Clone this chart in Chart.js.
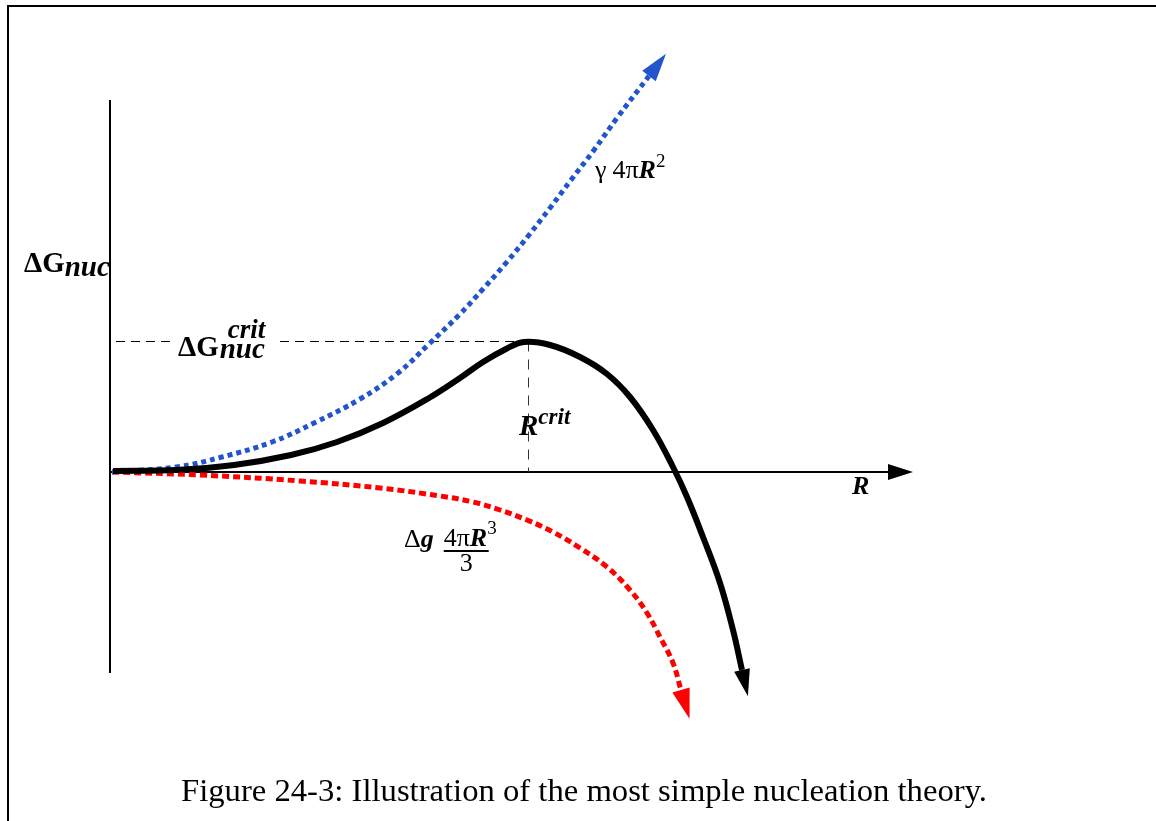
<!DOCTYPE html>
<html>
<head>
<meta charset="utf-8">
<script src="https://cdn.jsdelivr.net/npm/chart.js@4/dist/chart.umd.min.js"></script>
<style>
  html, body { margin: 0; padding: 0; background: #fff; overflow: hidden; }
  #wrap { width: 1156px; height: 821px; position: relative; }
</style>
</head>
<body>
<div id="wrap"><canvas id="c"></canvas></div>
<script>
// nucleation sketch: values, arbitrary units
// surface term  gamma 4 pi R^2
const surfR = [0.02, 0.66, 1.12, 1.62, 2.04, 2.50, 2.88, 3.19, 3.50, 3.73, 3.96, 4.19, 4.40, 4.61, 4.84, 5.07, 5.39];
const surfG = [0.00, 0.05, 0.15, 0.30, 0.49, 0.73, 0.99, 1.28, 1.58, 1.83, 2.09, 2.37, 2.64, 2.92, 3.22, 3.54, 3.96];
// volume term  dg 4 pi R^3 / 3
const volR = [0.02, 0.90, 1.90, 2.70, 3.30, 3.63, 3.90, 4.17, 4.43, 4.70, 4.97, 5.20, 5.37, 5.50, 5.63, 5.71];
const volG = [0.00, -0.03, -0.09, -0.16, -0.24, -0.30, -0.38, -0.48, -0.60, -0.76, -0.95, -1.18, -1.41, -1.65, -1.91, -2.18];
// total dG_nuc
const totR = [0.03, 0.66, 1.24, 1.81, 2.27, 2.73, 3.19, 3.50, 3.73, 3.96, 4.14, 4.40, 4.70, 4.97, 5.20, 5.43, 5.63, 5.77, 5.93, 6.10, 6.23, 6.32];
const totG = [0.01, 0.02, 0.07, 0.17, 0.30, 0.49, 0.74, 0.94, 1.10, 1.23, 1.30, 1.27, 1.15, 0.98, 0.75, 0.42, 0.05, -0.25, -0.65, -1.11, -1.58, -1.98];

const rCrit = 4.18, gCrit = 1.31;
const rAxisEnd = 8.03, gAxisTop = 3.72, gAxisBottom = -2.01;

const pts = (xs, ys) => xs.map((x, i) => ({ x: x, y: ys[i] }));

const SERIF = '"Liberation Serif", "Times New Roman", serif';
const f = (style, size) => style + ' ' + size + 'px ' + SERIF;

function arrow(ctx, bx, by, dx, dy, len, half, color) {
  const n = Math.hypot(dx, dy); dx /= n; dy /= n;
  ctx.fillStyle = color;
  ctx.beginPath();
  ctx.moveTo(bx + dx * len, by + dy * len);
  ctx.lineTo(bx - dy * half, by + dx * half);
  ctx.lineTo(bx + dy * half, by - dx * half);
  ctx.closePath();
  ctx.fill();
}

// draw a row of text pieces: [text, font, dy, extra gap]
function run(ctx, x, y, parts) {
  let cx = x;
  for (const p of parts) {
    ctx.font = p[1];
    ctx.fillText(p[0], cx, y + (p[2] || 0));
    cx += ctx.measureText(p[0]).width + (p[3] || 0);
  }
  return cx;
}

const sketch = {
  id: 'sketch',
  beforeDatasetsDraw(chart) {
    const { ctx, scales: { x, y } } = chart;
    const X = v => x.getPixelForValue(v), Y = v => y.getPixelForValue(v);
    ctx.save();
    ctx.strokeStyle = '#000';
    // page frame
    ctx.lineWidth = 2;
    ctx.beginPath(); ctx.moveTo(8, 821); ctx.lineTo(8, 6); ctx.lineTo(1156, 6); ctx.stroke();
    // axes
    ctx.beginPath(); ctx.moveTo(X(0), Y(gAxisBottom)); ctx.lineTo(X(0), Y(gAxisTop)); ctx.stroke();
    ctx.beginPath(); ctx.moveTo(X(0), Y(0)); ctx.lineTo(X(rAxisEnd) - 22, Y(0)); ctx.stroke();
    arrow(ctx, X(rAxisEnd) - 25, Y(0), 1, 0, 25, 8, '#000');
    // critical guides
    ctx.lineWidth = 1;
    ctx.strokeStyle = '#000';
    const gy = Math.round(Y(gCrit)) + 0.5, rx = Math.round(X(rCrit)) + 0.5;
    ctx.setLineDash([9, 6]);
    ctx.beginPath(); ctx.moveTo(X(0) + 6, gy); ctx.lineTo(X(0) + 64, gy); ctx.stroke();
    ctx.beginPath(); ctx.moveTo(X(0) + 170, gy); ctx.lineTo(rx, gy); ctx.stroke();
    ctx.strokeStyle = '#333';
    ctx.setLineDash([10, 8]);
    ctx.beginPath(); ctx.moveTo(rx, gy); ctx.lineTo(rx, Y(0)); ctx.stroke();
    ctx.restore();
  },
  afterDatasetsDraw(chart) {
    const { ctx, scales: { x, y } } = chart;
    const X = v => x.getPixelForValue(v), Y = v => y.getPixelForValue(v);
    ctx.save();
    // arrow heads at curve ends
    chart.data.datasets.forEach((ds, i) => {
      const el = chart.getDatasetMeta(i).data;
      const a = el[el.length - 2], b = el[el.length - 1];
      arrow(ctx, b.x, b.y, b.x - a.x, b.y - a.y, ds.headLen, ds.headHalf, ds.borderColor);
    });

    ctx.fillStyle = '#000';
    ctx.textBaseline = 'alphabetic';
    // y axis label
    run(ctx, X(0) - 86, Y(2.00), [['ΔG', f('bold', 29)], ['nuc', f('bold italic', 29), 4]]);
    // critical barrier label
    const gx = run(ctx, X(0) + 68, Y(gCrit) + 15, [['ΔG', f('bold', 29)]]);
    run(ctx, gx + 1, Y(gCrit) + 17, [['nuc', f('bold italic', 29)]]);
    run(ctx, gx + 9, Y(gCrit) - 3, [['crit', f('bold italic', 27)]]);
    // critical radius label
    run(ctx, X(rCrit) - 9, Y(0) - 37, [['R', f('bold italic', 29)], ['crit', f('bold italic', 23), -11]]);
    // R axis label
    run(ctx, X(rAxisEnd) - 61, Y(0) + 22, [['R', f('bold italic', 26)]]);
    // surface term label
    run(ctx, 595, 178, [['γ', f('', 26), 0, 6], ['4π', f('', 26)], ['R', f('bold italic', 26)], ['2', f('', 19), -11]]);
    // volume term label
    const vx = run(ctx, 404, 547, [['Δ', f('', 26)], ['g', f('bold italic', 26)]]);
    const nx0 = vx + 10;
    const nx1 = run(ctx, nx0, 546, [['4π', f('', 26)], ['R', f('bold italic', 26)], ['3', f('', 19), -12]]);
    ctx.fillRect(nx0, 550, nx1 - nx0 - 8, 2);
    ctx.font = f('', 26);
    ctx.textAlign = 'center';
    ctx.fillText('3', nx0 + (nx1 - nx0 - 8) / 2, 571);
    // caption
    ctx.textAlign = 'left';
    ctx.font = '32px ' + SERIF;
    const cap = 'Figure 24-3: Illustration of the most simple nucleation theory.';
    const w = ctx.measureText(cap).width;
    ctx.translate(181, 801);
    ctx.scale(806 / w, 1);
    ctx.fillText(cap, 0, 0);
    ctx.restore();
  }
};

new Chart(document.getElementById('c'), {
  type: 'scatter',
  data: {
    datasets: [
      { label: 'ΔG nuc', data: pts(totR, totG), borderColor: '#000', borderWidth: 6,
        headLen: 27, headHalf: 8 },
      { label: 'γ 4πR²', data: pts(surfR, surfG), borderColor: '#2255cc', borderWidth: 5,
        borderDash: [5, 4], headLen: 28, headHalf: 8.5 },
      { label: 'Δg 4πR³/3', data: pts(volR, volG), borderColor: '#ff0000', borderWidth: 5,
        borderDash: [7, 4], headLen: 30, headHalf: 9 }
    ].map(d => Object.assign({ showLine: true, pointRadius: 0, tension: 0.4, fill: false }, d))
  },
  options: {
    responsive: true,
    maintainAspectRatio: false,
    animation: false,
    devicePixelRatio: 1,
    layout: { padding: 0 },
    elements: { line: { tension: 0.4, borderJoinStyle: 'round' } },
    plugins: { legend: { display: false }, tooltip: { enabled: false } },
    scales: {
      x: { type: 'linear', min: -1.10, max: 10.46, display: false },
      y: { type: 'linear', min: -3.49, max: 4.72, display: false }
    }
  },
  plugins: [sketch]
});
</script>
</body>
</html>
